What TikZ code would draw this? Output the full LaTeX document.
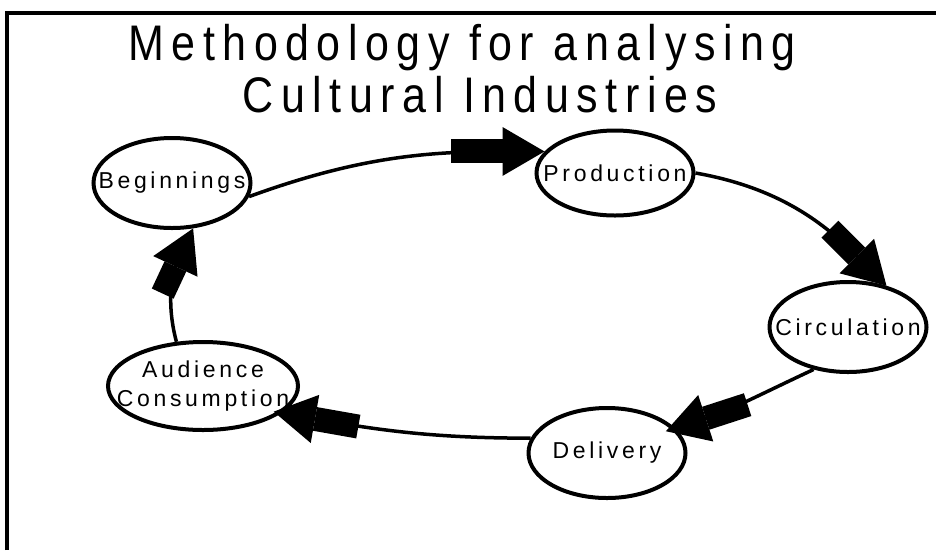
\documentclass[tikz,border=0pt]{standalone}
\usepackage{fontspec}
\setmainfont{Liberation Sans}
\newfontfamily\headfont[LetterSpace=15,FakeStretch=0.86]{Liberation Sans}
\newfontfamily\stagefont[LetterSpace=16]{Liberation Sans}
\usetikzlibrary{arrows.meta,shapes.geometric}

\begin{document}
\begin{tikzpicture}[x=1pt,y=-1pt,
    stage/.style={ellipse,draw,line width=4pt,inner sep=0pt,minimum width=157pt,minimum height=90pt,
      font=\stagefont\fontsize{23}{29}\selectfont,align=center},
    head/.style={font=\headfont\fontsize{50}{54}\selectfont,anchor=base,inner sep=0pt},
    flow/.style={line width=3.5pt,-{Rectangle[length=#1,width=24pt,sep=0pt]Triangle[length=42pt,width=48pt,sep=0pt]}},
    flow/.default=44pt]
  \useasboundingbox (0,0) rectangle (936,550);
  % frame
  \draw[line width=4pt] (7,550) -- (7,13) -- (936,13);

  \node[head] (ttl1) at (462,60) {Methodology for analysing};
  \node[head] (ttl2) at (480,112) {Cultural Industries};

  \node[stage] (beg) at (172,183) {\makebox[0pt]{Beginnings}};
  \node[stage,minimum height=85pt] (prod) at (615,173) {\makebox[0pt]{Production}};
  \node[stage] (circ) at (848,327) {\makebox[0pt]{Circulation}};
  \node[stage] (del) at (607,453) {\makebox[0pt]{Delivery}};
  \node[stage,minimum width=190pt,minimum height=88pt] (aud) at (203,386)
    {\makebox[0pt]{Audience}\\\makebox[0pt]{Consumption}};

  % the cycle
  \draw[flow=52pt] (beg.-10) to[out=20,in=180] (prod.163);
  \draw[flow=38pt] (prod.0) to[out=-10,in=135] (circ.47);
  \draw[flow,shorten >=-10pt] (circ.231) to[out=205,in=18] (del.20);
  \draw[flow,shorten >=-8pt] (del.169) to[out=180,in=-10] (aud.-19);
  \draw[flow=30pt] (aud.121) to[out=105,in=245] (beg.-65);
\end{tikzpicture}
\end{document}
